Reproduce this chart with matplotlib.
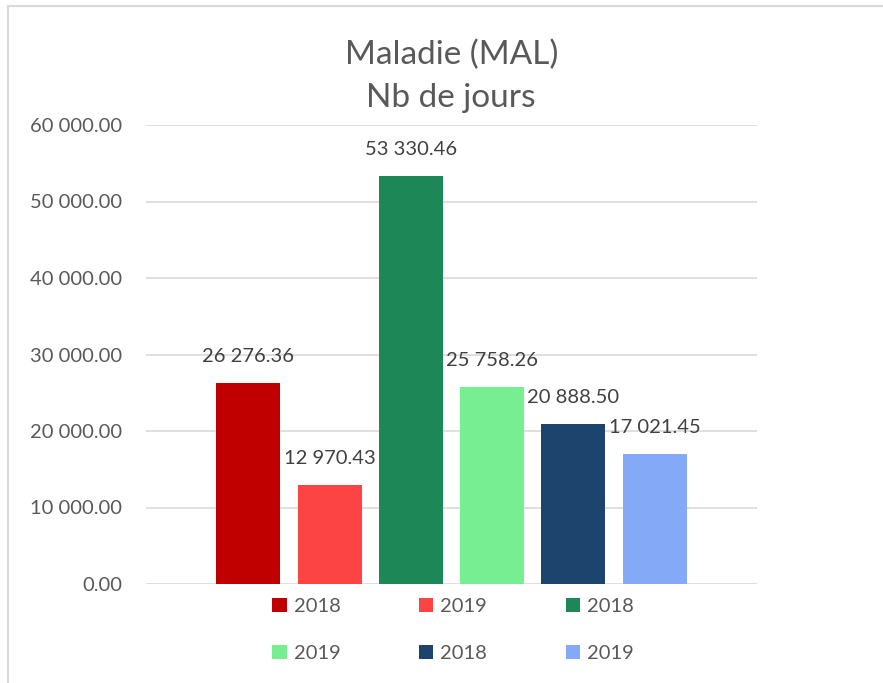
import matplotlib.pyplot as plt
from matplotlib.lines import Line2D

# data
labels = ["2018", "2019", "2018", "2019", "2018", "2019"]
values = [26276.36, 12970.43, 53330.46, 25758.26, 20888.50, 17021.45]
colors = ["#C00000", "#FC4444", "#1E8758", "#78EE92", "#1C446C", "#84A9F7"]
yticks = [0, 10000, 20000, 30000, 40000, 50000, 60000]

plt.rcParams['font.family'] = ['Lato', 'DejaVu Sans']

def fmt(v):
    return f"{v:,.2f}".replace(",", " ")

fig = plt.figure(figsize=(8.83, 6.83), dpi=100)
ax = fig.add_axes([146 / 883, 1 - 584 / 683, 611 / 883, 459 / 683])

x = list(range(len(values)))
bars = ax.bar(x, values, width=0.79, color=colors, zorder=3)

for xi, v in zip(x, values):
    ax.annotate(fmt(v), (xi, v), xytext=(0, 13), textcoords="offset points",
                ha="center", va="bottom", fontsize=14.5, color="#404040")

ax.set_xlim(-1.26, 6.26)
ax.set_ylim(0, 60000)
ax.set_yticks(yticks)
ax.set_yticklabels([fmt(t) for t in yticks], fontsize=14.5, color="#595959")
ax.set_xticks([])
ax.tick_params(axis="y", length=0, pad=17)
ax.grid(axis="y", color="#D9D9D9", lw=1.2, zorder=0)
for s in ax.spines.values():
    s.set_visible(False)

fig.text(0.511, 1 - 55 / 683, "Maladie (MAL)", ha="center", va="center",
         fontsize=24, color="#595959")
fig.text(0.511, 1 - 98 / 683, "Nb de jours", ha="center", va="center",
         fontsize=24, color="#595959")

# legend, row-major like the original
order = [0, 3, 1, 4, 2, 5]
handles = [bars[i] for i in order]
leg_labels = [labels[i] for i in order]
fig.legend(handles, leg_labels, ncol=3, loc="center",
           bbox_to_anchor=(453 / 883, 1 - 630 / 683), frameon=False,
           fontsize=14.5, labelcolor="#595959", handlelength=0.7,
           handleheight=0.7, handletextpad=0.35, columnspacing=3.9,
           labelspacing=1.5)

# chart border (only top and left visible)
fig.add_artist(Line2D([8 / 883, 1], [1 - 6 / 683, 1 - 6 / 683], color="#D9D9D9", lw=1.5))
fig.add_artist(Line2D([8 / 883, 8 / 883], [0, 1 - 6 / 683], color="#D9D9D9", lw=1.5))

fig.savefig("out.png", dpi=100)
